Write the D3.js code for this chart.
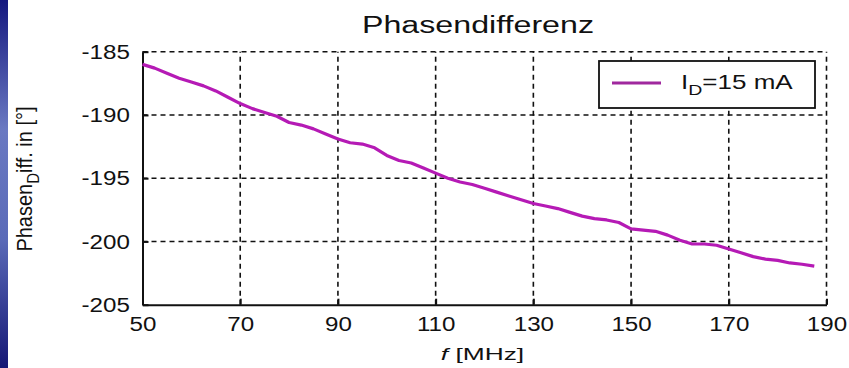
<!DOCTYPE html>
<html>
<head>
<meta charset="utf-8">
<title>Phasendifferenz</title>
<style>
  body { margin: 0; background: #fff; }
  svg { display: block; }
  text { font-family: "Liberation Sans", Arial, Helvetica, sans-serif; fill: #111; }
</style>
</head>
<body>
<script src="https://d3js.org/d3.v7.min.js"></script>
<script>
// values
var freqMHz = [50, 52.5, 55, 57.5, 60, 62.5, 65, 67.5, 70, 72.5, 75, 77.5, 80, 82.5, 85, 87.5,
               90, 92.5, 95, 97.5, 100, 102.5, 105, 107.5, 110, 112.5, 115, 117.5, 120, 122.5,
               125, 127.5, 130, 132.5, 135, 137.5, 140, 142.5, 145, 147.5, 150, 152.5, 155,
               157.5, 160, 162.5, 165, 167.5, 170, 172.5, 175, 177.5, 180, 182.5, 185, 187.5];
var phaseDeg = [-186.0, -186.3, -186.7, -187.1, -187.4, -187.7, -188.1, -188.6, -189.1, -189.5,
                -189.8, -190.1, -190.6, -190.8, -191.1, -191.5, -191.9, -192.2, -192.3, -192.6,
                -193.2, -193.6, -193.8, -194.2, -194.6, -195.0, -195.3, -195.5, -195.8, -196.1,
                -196.4, -196.7, -197.0, -197.2, -197.4, -197.7, -198.0, -198.2, -198.3, -198.5,
                -199.0, -199.1, -199.2, -199.5, -199.9, -200.2, -200.2, -200.3, -200.6, -200.9,
                -201.2, -201.4, -201.5, -201.7, -201.8, -201.95];
var xTicks = [50, 70, 90, 110, 130, 150, 170, 190];
var yTicks = [-185, -190, -195, -200, -205];
var titleText = "Phasendifferenz";
var legendLabel = ["I", "D", "=15 mA"];

var W = 849, H = 368;
var plot = {left: 142.5, right: 826.5, top: 51.7, bottom: 304.7};
var lineColor = "#b51ab5";

var svg = d3.select("body").append("svg")
    .attr("width", W)
    .attr("height", H);

// blue slide edge on the left
var grad = svg.append("defs").append("linearGradient")
    .attr("id", "edge")
    .attr("x1", 0).attr("y1", 0).attr("x2", 0).attr("y2", 1);
grad.append("stop").attr("offset", "0%").attr("stop-color", "#15187f");
grad.append("stop").attr("offset", "35%").attr("stop-color", "#6a79c2");
grad.append("stop").attr("offset", "65%").attr("stop-color", "#5a6ab8");
grad.append("stop").attr("offset", "100%").attr("stop-color", "#151775");
svg.append("rect")
    .attr("x", 0).attr("y", 0)
    .attr("width", 8).attr("height", H)
    .attr("fill", "url(#edge)");

var x = d3.scaleLinear().domain([50, 190]).range([plot.left, plot.right]);
var y = d3.scaleLinear().domain([-205, -185]).range([plot.bottom, plot.top]);

// dashed grid
var grid = svg.append("g")
    .attr("stroke", "#111")
    .attr("stroke-width", 1.6)
    .attr("stroke-dasharray", "5,4");
grid.selectAll(".gx")
    .data(xTicks.filter(function(d) { return d !== 50; }))
    .enter().append("line")
    .attr("x1", function(d) { return x(d); })
    .attr("x2", function(d) { return x(d); })
    .attr("y1", plot.bottom)
    .attr("y2", plot.top);
grid.selectAll(".gy")
    .data(yTicks.filter(function(d) { return d !== -205; }))
    .enter().append("line")
    .attr("y1", function(d) { return y(d); })
    .attr("y2", function(d) { return y(d); })
    .attr("x1", plot.left)
    .attr("x2", plot.right);

// axes (left and bottom only, ticks point inwards)
var plain = function(d) { return String(d); };
var xAxis = svg.append("g")
    .attr("transform", "translate(0," + plot.bottom + ")")
    .call(d3.axisBottom(x).tickValues(xTicks).tickFormat(plain)
        .tickSizeInner(-6).tickSizeOuter(0).tickPadding(11));
var yAxis = svg.append("g")
    .attr("transform", "translate(" + plot.left + ",0)")
    .call(d3.axisLeft(y).tickValues(yTicks).tickFormat(plain)
        .tickSizeInner(-6).tickSizeOuter(0).tickPadding(11));

[xAxis, yAxis].forEach(function(a) {
    a.select(".domain").attr("stroke", "#111").attr("stroke-width", 2);
    a.selectAll(".tick line").attr("stroke", "#111").attr("stroke-width", 2);
    a.selectAll(".tick text")
        .style("font-size", "21px")
        .style("font-family", "\"Liberation Sans\", Arial, sans-serif")
        .attr("fill", "#111")
        .attr("transform", "scale(1.15,1)");
});

// the curve
var line = d3.line()
    .x(function(d, i) { return x(freqMHz[i]); })
    .y(function(d) { return y(d); });
svg.append("path")
    .datum(phaseDeg)
    .attr("d", line)
    .attr("fill", "none")
    .attr("stroke", lineColor)
    .attr("stroke-width", 3.2)
    .attr("stroke-linejoin", "round");

// title
svg.append("g")
    .attr("transform", "translate(478,33) scale(1.4,1)")
    .append("text")
    .attr("text-anchor", "middle")
    .style("font-size", "23px")
    .text(titleText);

// x label
var xl = svg.append("g")
    .attr("transform", "translate(" + (x(120) - 2) + ",360) scale(1.55,1)")
    .append("text")
    .attr("text-anchor", "middle")
    .style("font-size", "17px");
xl.append("tspan").style("font-style", "italic").text("f");
xl.append("tspan").text(" [MHz]");

// y label
var yl = svg.append("g")
    .attr("transform", "translate(32,179) scale(1.1,1) rotate(-90)")
    .append("text")
    .attr("text-anchor", "middle")
    .style("font-size", "20px");
yl.append("tspan").text("Phasen");
yl.append("tspan").attr("dy", 6).style("font-size", "15px").text("D");
yl.append("tspan").attr("dy", -6).text("iff. in [°]");

// legend
var leg = svg.append("g");
leg.append("rect")
    .attr("x", 599).attr("y", 61)
    .attr("width", 216).attr("height", 47)
    .attr("fill", "#fff")
    .attr("stroke", "#111")
    .attr("stroke-width", 1.8);
leg.append("line")
    .attr("x1", 612).attr("x2", 661)
    .attr("y1", 83).attr("y2", 83)
    .attr("stroke", "#a0289e")
    .attr("stroke-width", 3);
var lt = leg.append("g")
    .attr("transform", "translate(681,89) scale(1.3,1)")
    .append("text")
    .style("font-size", "20px");
lt.append("tspan").text(legendLabel[0]);
lt.append("tspan").attr("dy", 6).style("font-size", "15px").text(legendLabel[1]);
lt.append("tspan").attr("dy", -6).text(legendLabel[2]);
</script>
</body>
</html>
